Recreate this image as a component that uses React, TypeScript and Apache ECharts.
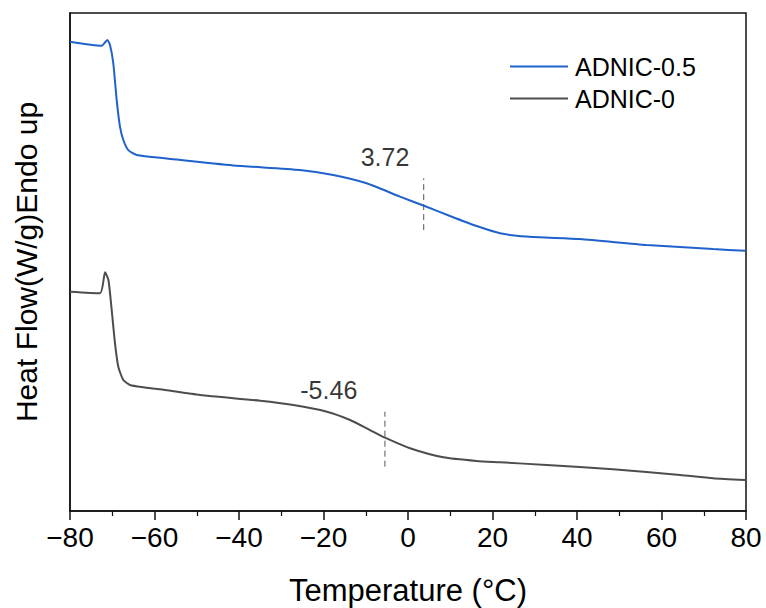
import React, { useEffect, useRef } from "react";
import * as echarts from "echarts";

const tempsA = [-80, -72.5, -71.17, -70.53, -69.75, -68.95, -68.17, -67.38, -66.2, -64.2, -57.1, -41.4, -25.6, -17.7, -9.8, -1.9, 3.79, 9.94, 16.26, 21.8, 25.7, 31.2, 40.7, 56.5, 72.2, 79.8];
const flowA = [47.12, 46.72, 47.29, 46.79, 44.95, 41.26, 38.59, 37.25, 36.24, 35.74, 35.4, 34.7, 34.24, 33.73, 32.9, 31.56, 30.65, 29.62, 28.61, 27.88, 27.64, 27.48, 27.3, 26.71, 26.3, 26.13];

const tempsB = [-80, -72.9, -71.7, -70.9, -70.13, -69.35, -68.57, -67.38, -65.8, -62.65, -58.7, -49.2, -35.0, -27.15, -19.2, -13.7, -9.0, -5.44, 0.47, 8.36, 16.26, 21.8, 32.8, 48.5, 64.4, 72.2, 79.8];
const flowB = [22.02, 21.86, 23.97, 23.19, 20.18, 16.84, 14.49, 13.15, 12.65, 12.42, 12.22, 11.65, 11.07, 10.64, 9.97, 9.14, 8.13, 7.36, 6.3, 5.39, 5.02, 4.89, 4.62, 4.19, 3.61, 3.28, 3.11];

const seriesNames = ["ADNIC-0.5", "ADNIC-0"];
const seriesColors = ["#2062cc", "#4d4d4d"];
const tgValues = [3.72, -5.46];
const tgLabels = ["3.72", "-5.46"];
const tgDashRanges = [[28.2, 33.4], [4.45, 9.97]];
const tgLabelPos = [[-5.44, 35.5], [-18.75, 12.1]];

const FONT = "'Liberation Sans', Arial, sans-serif";

export default function App() {
  const ref = useRef<HTMLDivElement>(null);
  useEffect(() => {
    if (!ref.current) return;
    const chart = echarts.init(ref.current, undefined, { renderer: "svg" });
    const fmt = (v: number) => (v < 0 ? "\u2212" + Math.abs(v) : String(v));
    const lineSeries = [
      { name: seriesNames[0], x: tempsA, y: flowA, color: seriesColors[0] },
      { name: seriesNames[1], x: tempsB, y: flowB, color: seriesColors[1] },
    ].map((s) => ({
      name: s.name,
      type: "line",
      data: s.x.map((t, i) => [t, s.y[i]]),
      symbol: "none",
      smooth: 0.2,
      lineStyle: { color: s.color, width: 2 },
      itemStyle: { color: s.color },
    }));
    const dashSeries = tgValues.map((t, i) => ({
      name: "tg" + i,
      type: "line",
      data: [[t, tgDashRanges[i][0]], [t, tgDashRanges[i][1]]],
      symbol: "none",
      lineStyle: { color: "#555", width: 1, type: [6, 4] },
      silent: true,
    }));
    const labelSeries = {
      name: "labels",
      type: "scatter",
      symbolSize: 0,
      silent: true,
      data: tgLabelPos.map((p, i) => ({ value: p, label: { formatter: tgLabels[i] } })),
      label: { show: true, position: "inside", fontSize: 25, color: "#000", fontFamily: FONT },
    };
    chart.setOption({
      animation: false,
      backgroundColor: "#fff",
      grid: {
        left: 70, right: 20, top: 13, bottom: 97,
        show: true, borderColor: "#111", borderWidth: 1.5, backgroundColor: "transparent",
        outerBoundsMode: "none", containLabel: false,
      },
      legend: {
        data: seriesNames.map((n) => ({ name: n, icon: "rect" })),
        orient: "vertical",
        left: 505,
        top: 49,
        itemWidth: 58,
        itemHeight: 2,
        itemGap: 7,
        textStyle: { fontSize: 25, color: "#000", fontFamily: FONT, padding: [0, 0, 0, 2] },
      },
      xAxis: {
        type: "value",
        min: -80,
        max: 80,
        interval: 20,
        name: "Temperature (°C)",
        nameLocation: "middle",
        nameGap: 64,
        nameTextStyle: { fontSize: 31, color: "#000", fontFamily: FONT },
        axisLine: { lineStyle: { color: "#111", width: 1.5 } },
        axisTick: { show: true, length: 9, lineStyle: { color: "#111", width: 1.5 } },
        minorTick: { show: true, splitNumber: 2, length: 5, lineStyle: { color: "#111", width: 1.2 } },
        splitLine: { show: false },
        axisLabel: { fontSize: 28, color: "#000", fontFamily: FONT, margin: 12, formatter: fmt },
      },
      yAxis: {
        type: "value",
        min: 0,
        max: 50,
        name: "Heat Flow(W/g)Endo up",
        nameLocation: "middle",
        nameGap: 29,
        nameTextStyle: { fontSize: 30, color: "#000", fontFamily: FONT },
        axisLine: { show: true, onZero: false, lineStyle: { color: "#111", width: 1.5 } },
        axisTick: { show: false },
        axisLabel: { show: false },
        splitLine: { show: false },
      },
      series: [...lineSeries, ...dashSeries, labelSeries],
    });
    return () => chart.dispose();
  }, []);
  return <div ref={ref} style={{ width: 766, height: 608, position: "absolute", left: 0, top: 0 }} />;
}
